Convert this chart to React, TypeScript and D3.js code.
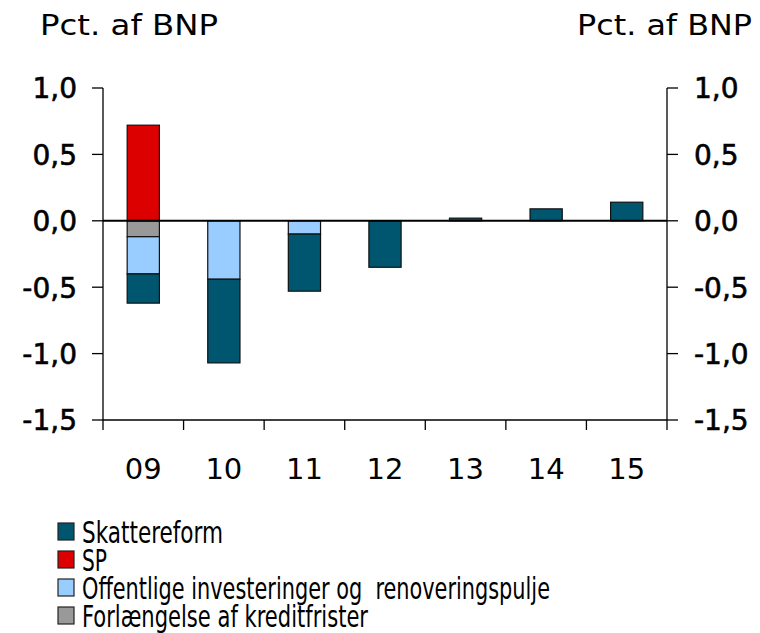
import React from "react";
import * as d3 from "d3";

const years = ["09", "10", "11", "12", "13", "14", "15"];
const skattereform = [-0.22, -0.63, -0.43, -0.35, 0.02, 0.09, 0.14];
const sp = [0.72, 0, 0, 0, 0, 0, 0];
const offentlige = [-0.28, -0.44, -0.1, 0, 0, 0, 0];
const forlaengelse = [-0.12, 0, 0, 0, 0, 0, 0];
const yTicks = [1.0, 0.5, 0.0, -0.5, -1.0, -1.5];

const seriesKeys = ["forl", "off", "sp", "skat"];
const seriesColors: Record<string, string> = {
  skat: "#00566F",
  sp: "#DD0000",
  off: "#99CCFF",
  forl: "#999999",
};
const legendItems = [
  { key: "skat", label: "Skattereform" },
  { key: "sp", label: "SP" },
  { key: "off", label: "Offentlige investeringer og  renoveringspulje" },
  { key: "forl", label: "Forlængelse af kreditfrister" },
];
const legendWidths = [141, 25, 468, 286];

export default function App() {
  const W = 760, H = 633;
  const left = 103, right = 667, top = 88, bottom = 420;

  const table = years.map((y, i) => ({
    year: y,
    skat: skattereform[i],
    sp: sp[i],
    off: offentlige[i],
    forl: forlaengelse[i],
  }));

  const stack = d3
    .stack<any>()
    .keys(seriesKeys)
    .offset(d3.stackOffsetDiverging);
  const stacked = stack(table);

  const x = d3.scaleBand().domain(years).range([left, right]).paddingInner(0.6).paddingOuter(0.3);
  const y = d3.scaleLinear().domain([-1.5, 1.0]).range([bottom, top]);
  const step = x.step();
  const fmt = (v: number) => d3.format(".1f")(v).replace(".", ",").replace("−", "-");

  const tickFont = "'DejaVu Sans', Verdana, sans-serif";

  return (
    <svg width={W} height={H} style={{ position: "absolute", left: 0, top: 0, background: "#fff" }}>
      <rect x={0} y={0} width={W} height={H} fill="#fff" />
      {/* titles */}
      <text x={40} y={35} fontFamily={tickFont} fontSize={29} textLength={178} lengthAdjust="spacingAndGlyphs" fill="#000">
        Pct. af BNP
      </text>
      <text x={577} y={35} fontFamily={tickFont} fontSize={29} textLength={175} lengthAdjust="spacingAndGlyphs" fill="#000">
        Pct. af BNP
      </text>

      {/* bars */}
      {stacked.map((s) =>
        s.map((d, i) => {
          const v0 = d[0], v1 = d[1];
          if (Math.abs(v1 - v0) < 1e-9) return null;
          const yTop = y(Math.max(v0, v1));
          const yBot = y(Math.min(v0, v1));
          return (
            <rect
              key={s.key + i}
              x={x(years[i])!}
              y={yTop}
              width={x.bandwidth()}
              height={yBot - yTop}
              fill={seriesColors[s.key]}
              stroke="#111"
              strokeWidth={1.2}
            />
          );
        })
      )}

      {/* zero line */}
      <line x1={left} x2={right} y1={y(0)} y2={y(0)} stroke="#000" strokeWidth={2} />

      {/* left axis */}
      <line x1={left} x2={left} y1={top} y2={bottom} stroke="#000" strokeWidth={1.3} />
      {yTicks.map((t) => (
        <g key={"l" + t}>
          <line x1={left - 11} x2={left} y1={y(t)} y2={y(t)} stroke="#000" strokeWidth={1.3} />
          <text x={77} y={y(t)} dy="0.37em" textAnchor="end" fontFamily={tickFont} fontSize={28} fill="#000" stroke="#000" strokeWidth={0.6}>
            {fmt(t)}
          </text>
        </g>
      ))}
      {/* right axis */}
      <line x1={right} x2={right} y1={top} y2={bottom} stroke="#000" strokeWidth={1.3} />
      {yTicks.map((t) => (
        <g key={"r" + t}>
          <line x1={right} x2={right + 11} y1={y(t)} y2={y(t)} stroke="#000" strokeWidth={1.3} />
          <text x={694} y={y(t)} dy="0.37em" textAnchor="start" fontFamily={tickFont} fontSize={28} fill="#000" stroke="#000" strokeWidth={0.6}>
            {fmt(t)}
          </text>
        </g>
      ))}

      {/* bottom axis */}
      <line x1={left} x2={right} y1={bottom} y2={bottom} stroke="#000" strokeWidth={1.3} />
      {years.map((yr, i) => (
        <g key={"x" + yr}>
          {i > 0 && (
            <line
              x1={left + step * i}
              x2={left + step * i}
              y1={bottom}
              y2={bottom + 10}
              stroke="#000"
              strokeWidth={1.3}
            />
          )}
          <text
            x={x(yr)! + x.bandwidth() / 2}
            y={479}
            textAnchor="middle"
            fontFamily={tickFont}
            fontSize={29}
            fill="#000"
          >
            {yr}
          </text>
        </g>
      ))}
      <line x1={right} x2={right} y1={bottom} y2={bottom + 10} stroke="#000" strokeWidth={1.3} />
      <line x1={left} x2={left} y1={bottom} y2={bottom + 10} stroke="#000" strokeWidth={1.3} />

      {/* legend */}
      {legendItems.map((it, i) => (
        <g key={it.key}>
          <rect
            x={58}
            y={523 + i * 28}
            width={16}
            height={17}
            fill={seriesColors[it.key]}
            stroke="#222"
            strokeWidth={1.2}
          />
          <text
            x={82}
            y={543 + i * 28}
            fontFamily="'Liberation Sans Narrow', 'DejaVu Sans Condensed', sans-serif"
            fontSize={30}
            textLength={legendWidths[i]}
            lengthAdjust="spacingAndGlyphs"
            fill="#000"
            style={{ whiteSpace: "pre" }}
          >
            {it.label}
          </text>
        </g>
      ))}
    </svg>
  );
}
